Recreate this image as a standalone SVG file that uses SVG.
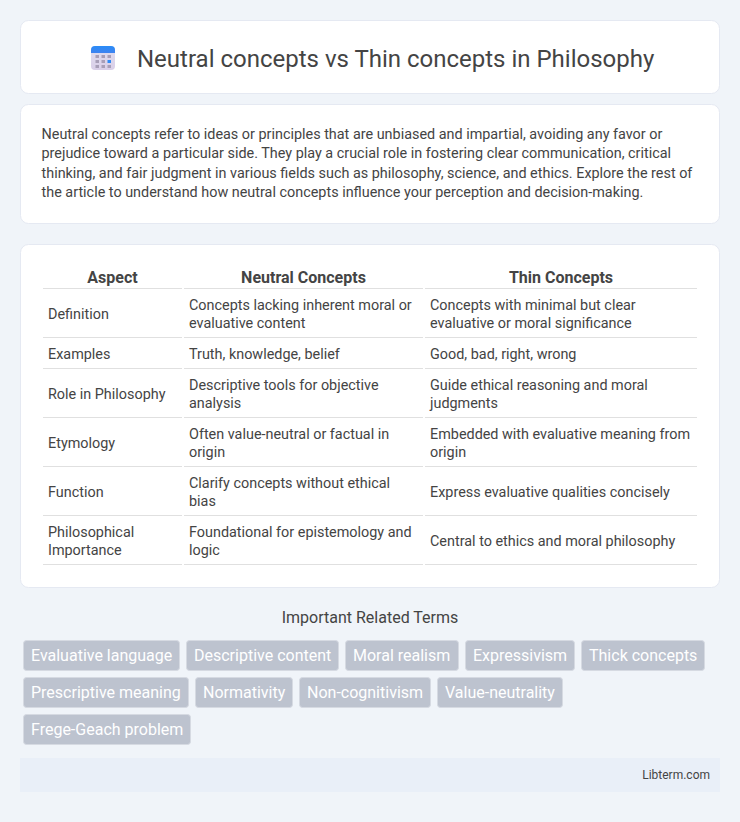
<svg xmlns="http://www.w3.org/2000/svg" width="740" height="822" viewBox="0 0 740 822">
<defs><linearGradient id="body" x1="0" y1="0" x2="0" y2="1"><stop offset="0" stop-color="#e2dff0"/><stop offset="1" stop-color="#d9cfe8"/></linearGradient><linearGradient id="band" x1="0" y1="0" x2="0" y2="1"><stop offset="0" stop-color="#2a8cf7"/><stop offset="1" stop-color="#3f83f0"/></linearGradient></defs>
<style>
text{font-family:Roboto,"Liberation Sans",sans-serif;fill:#444}
.card{fill:#fff;stroke:#e5e9f2;stroke-width:1}
.p{font-size:14.4px}
.th{font-size:16px;font-weight:700;text-anchor:middle}
.td{font-size:14.4px}
.ln{fill:#e0e0e0}
.tag{fill:#bdc3cf;stroke:#d6dae2;stroke-width:1}
.tt{font-size:16px;fill:#fff}
</style>
<rect width="740" height="822" fill="#f0f4f9"/>
<g id="title-card"><rect class="card" x="20.500" y="20.500" width="699" height="73" rx="8"/>
<g id="icon"><rect x="91" y="46" width="24" height="24" rx="4" fill="url(#body)"/><path d="M91 53V50a4 4 0 0 1 4-4h16a4 4 0 0 1 4 4v3z" fill="url(#band)"/>
<g fill="#a89fb8"><rect x="95.500" y="55" width="3.500" height="3"/><rect x="101.500" y="55" width="3.500" height="3"/><rect x="107.500" y="55" width="3.500" height="3"/><rect x="95.500" y="60" width="3.500" height="3"/><rect x="101.500" y="60" width="3.500" height="3"/><rect x="107.500" y="60" width="3.500" height="3" fill="#2f8af5"/><rect x="95.500" y="65" width="3.500" height="3"/><rect x="101.500" y="65" width="3.500" height="3"/><rect x="107.500" y="65" width="3.500" height="3"/></g></g>
<text x="137" y="67" font-size="24">Neutral concepts vs Thin concepts in Philosophy</text></g>
<g id="intro-card"><rect class="card" x="20.500" y="104.500" width="699" height="119" rx="8"/>
<text class="p" x="41.500" y="139">Neutral concepts refer to ideas or principles that are unbiased and impartial, avoiding any favor or</text>
<text class="p" x="41.500" y="158">prejudice toward a particular side. They play a crucial role in fostering clear communication, critical</text>
<text class="p" x="41.500" y="178">thinking, and fair judgment in various fields such as philosophy, science, and ethics. Explore the rest of</text>
<text class="p" x="41.500" y="197">the article to understand how neutral concepts influence your perception and decision-making.</text></g>
<g id="table-card"><rect class="card" x="20.500" y="244.500" width="699" height="343" rx="8"/>
<g id="table-lines">
<rect class="ln" x="43" y="288" width="139" height="1"/><rect class="ln" x="184" y="288" width="239" height="1"/><rect class="ln" x="425" y="288" width="272" height="1"/>
<rect class="ln" x="43" y="337" width="139" height="1"/><rect class="ln" x="184" y="337" width="239" height="1"/><rect class="ln" x="425" y="337" width="272" height="1"/>
<rect class="ln" x="43" y="368" width="139" height="1"/><rect class="ln" x="184" y="368" width="239" height="1"/><rect class="ln" x="425" y="368" width="272" height="1"/>
<rect class="ln" x="43" y="417" width="139" height="1"/><rect class="ln" x="184" y="417" width="239" height="1"/><rect class="ln" x="425" y="417" width="272" height="1"/>
<rect class="ln" x="43" y="466" width="139" height="1"/><rect class="ln" x="184" y="466" width="239" height="1"/><rect class="ln" x="425" y="466" width="272" height="1"/>
<rect class="ln" x="43" y="515" width="139" height="1"/><rect class="ln" x="184" y="515" width="239" height="1"/><rect class="ln" x="425" y="515" width="272" height="1"/>
<rect class="ln" x="43" y="564" width="139" height="1"/><rect class="ln" x="184" y="564" width="239" height="1"/><rect class="ln" x="425" y="564" width="272" height="1"/>
</g>
<text class="th" x="112.500" y="283">Aspect</text><text class="th" x="303.500" y="283">Neutral Concepts</text><text class="th" x="561" y="283">Thin Concepts</text>
<text class="td" x="48" y="319">Definition</text><text class="td" x="189" y="310">Concepts lacking inherent moral or</text><text class="td" x="189" y="328">evaluative content</text><text class="td" x="430" y="310">Concepts with minimal but clear</text><text class="td" x="430" y="328">evaluative or moral significance</text>
<text class="td" x="48" y="359">Examples</text><text class="td" x="189" y="359">Truth, knowledge, belief</text><text class="td" x="430" y="359">Good, bad, right, wrong</text>
<text class="td" x="48" y="399">Role in Philosophy</text><text class="td" x="189" y="390">Descriptive tools for objective</text><text class="td" x="189" y="408">analysis</text><text class="td" x="430" y="390">Guide ethical reasoning and moral</text><text class="td" x="430" y="408">judgments</text>
<text class="td" x="48" y="448">Etymology</text><text class="td" x="189" y="439">Often value-neutral or factual in</text><text class="td" x="189" y="457">origin</text><text class="td" x="430" y="439">Embedded with evaluative meaning from</text><text class="td" x="430" y="457">origin</text>
<text class="td" x="48" y="497">Function</text><text class="td" x="189" y="488">Clarify concepts without ethical</text><text class="td" x="189" y="506">bias</text><text class="td" x="430" y="497">Express evaluative qualities concisely</text>
<text class="td" x="48" y="537">Philosophical</text><text class="td" x="48" y="555">Importance</text><text class="td" x="189" y="537">Foundational for epistemology and</text><text class="td" x="189" y="555">logic</text><text class="td" x="430" y="546">Central to ethics and moral philosophy</text></g>
<text x="370" y="623" font-size="16" text-anchor="middle">Important Related Terms</text>
<g id="terms">
<g id="t1"><rect class="tag" x="23.500" y="640.500" width="156" height="30" rx="3"/><text class="tt" x="31" y="661">Evaluative language</text></g>
<g id="t2"><rect class="tag" x="186.500" y="640.500" width="152" height="30" rx="3"/><text class="tt" x="194" y="661">Descriptive content</text></g>
<g id="t3"><rect class="tag" x="345.500" y="640.500" width="113" height="30" rx="3"/><text class="tt" x="353" y="661">Moral realism</text></g>
<g id="t4"><rect class="tag" x="465.500" y="640.500" width="109" height="30" rx="3"/><text class="tt" x="473" y="661">Expressivism</text></g>
<g id="t5"><rect class="tag" x="581.500" y="640.500" width="123" height="30" rx="3"/><text class="tt" x="589" y="661">Thick concepts</text></g>
<g id="t6"><rect class="tag" x="23.500" y="677.500" width="165" height="30" rx="3"/><text class="tt" x="31" y="698">Prescriptive meaning</text></g>
<g id="t7"><rect class="tag" x="195.500" y="677.500" width="97" height="30" rx="3"/><text class="tt" x="203" y="698">Normativity</text></g>
<g id="t8"><rect class="tag" x="299.500" y="677.500" width="131" height="30" rx="3"/><text class="tt" x="307" y="698">Non-cognitivism</text></g>
<g id="t9"><rect class="tag" x="437.500" y="677.500" width="125" height="30" rx="3"/><text class="tt" x="445" y="698">Value-neutrality</text></g>
<g id="t10"><rect class="tag" x="23.500" y="714.500" width="167" height="30" rx="3"/><text class="tt" x="31" y="735">Frege-Geach problem</text></g>
</g>
<g id="footer"><rect x="20" y="758" width="700" height="34" fill="#e9eff8"/><text x="710" y="779" font-size="12" text-anchor="end">Libterm.com</text></g>
</svg>
